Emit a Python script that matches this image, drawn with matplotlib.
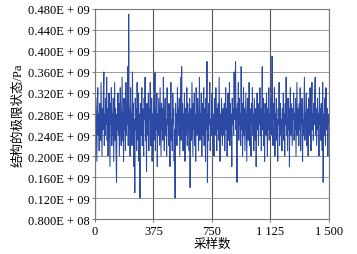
import numpy as np
import matplotlib
matplotlib.use('Agg')
import matplotlib.pyplot as plt

# limit state values, in units of 0.01E+09 Pa (every ~3rd sample)
state_vals = [
    27, 22, 31, 25, 19, 29, 33, 24, 28, 21, 30, 26, 23, 34, 27, 20, 29, 25, 32, 36, 22, 28, 24, 31, 26,
    35, 23, 29, 20, 27, 32, 25, 18, 30, 26, 33, 22, 28, 24, 31, 19, 27, 34, 23, 29, 21, 15, 28, 25, 32,
    24, 30, 20, 27, 33, 26, 22, 29, 35, 23, 28, 19, 31, 25, 27, 21, 34, 24, 30, 26, 37, 22, 47, 25, 29,
    20, 33, 26, 28, 22, 36, 24, 30, 18, 27, 13, 31, 25, 29, 21, 34, 26, 23, 32, 19, 28, 12, 30, 24, 27,
    33, 22, 29, 25, 20, 31, 27, 35, 23, 28, 17, 30, 26, 24, 32, 21, 29, 27, 34, 22, 26, 31, 19, 28, 25,
    30, 23, 27, 36, 21, 29, 25, 32, 18, 28, 24, 31, 26, 22, 33, 27, 20, 30, 25, 29, 23, 35, 26, 21, 28,
    31, 24, 27, 20, 33, 26, 29, 22, 30, 25, 18, 28, 34, 23, 27, 21, 32, 26, 29, 19, 25, 12, 30, 24, 28,
    22, 33, 26, 29, 24, 31, 20, 27, 35, 23, 37, 25, 30, 21, 28, 26, 32, 19, 29, 24, 27, 33, 22, 30, 25,
    28, 21, 31, 14, 26, 29, 23, 34, 27, 20, 30, 25, 32, 22, 28, 19, 33, 26, 24, 31, 27, 21, 29, 35, 23,
    28, 25, 32, 20, 27, 30, 24, 33, 22, 29, 26, 19, 31, 25, 38, 15, 28, 23, 30, 26, 34, 21, 27, 24, 29,
    32, 22, 28, 25, 20, 31, 27, 24, 33, 26, 21, 29, 25, 30, 23, 35, 27, 19, 28, 24, 31, 26, 22, 29, 27,
    24, 30, 21, 28, 33, 25, 29, 20, 27, 32, 23, 26, 34, 22, 30, 25, 28, 18, 31, 26, 29, 24, 36, 27, 33,
    38, 25, 29, 15, 30, 27, 34, 23, 31, 26, 28, 22, 37, 25, 30, 20, 28, 33, 24, 29, 21, 27, 32, 25, 19,
    28, 31, 23, 27, 34, 22, 29, 25, 20, 30, 26, 33, 24, 28, 21, 31, 27, 23, 29, 18, 26, 32, 25, 28, 22,
    30, 26, 33, 24, 29, 21, 27, 37, 25, 31, 22, 28, 19, 30, 26, 24, 32, 27, 20, 29, 25, 33, 23, 28, 26,
    31, 24, 29, 39, 26, 22, 30, 27, 33, 20, 28, 25, 31, 23, 27, 19, 29, 26, 34, 22, 28, 30, 24, 27, 21,
    29, 25, 32, 23, 28, 20, 30, 26, 35, 24, 27, 21, 31, 25, 29, 18, 28, 33, 24, 30, 26, 22, 29, 27, 32,
    23, 28, 25, 31, 20, 27, 34, 24, 29, 26, 22, 30, 25, 33, 21, 28, 26, 31, 19, 27, 24, 30, 35, 23, 28,
    26, 32, 22, 29, 25, 20, 31, 27, 24, 33, 26, 21, 29, 34, 25, 28, 23, 30, 26, 32, 35, 24, 29, 22, 27,
    31, 25, 28, 20, 33, 26, 29, 23, 30, 27, 21, 34, 15, 28, 24, 31, 26, 22, 33, 27, 25, 29, 20, 28, 26,
]

x_ticks = [0, 375, 750, 1125, 1500]
x_ticklabels = ['0', '375', '750', '1 125', '1 500']
y_ticks = [0.08e9, 0.12e9, 0.16e9, 0.20e9, 0.24e9, 0.28e9, 0.32e9, 0.36e9, 0.40e9, 0.44e9, 0.48e9]
y_ticklabels = ['0.800E + 08', '0.120E + 09', '0.160E + 09', '0.200E + 09', '0.240E + 09',
                '0.280E + 09', '0.320E + 09', '0.360E + 09', '0.400E + 09', '0.440E + 09',
                '0.480E + 09']

fonts = ['Liberation Serif', 'Noto Sans CJK SC']
plt.rcParams['font.family'] = fonts

y = np.array(state_vals) * 1e7
x = np.linspace(0, 1500, len(y))

fig = plt.figure(figsize=(3.57, 2.55), dpi=100)
ax = fig.add_axes([0.266, 0.137, 0.655, 0.824])

ax.plot(x, y, color='#2c4aa3', lw=0.75)

ax.set_xlim(0, 1500)
ax.set_ylim(0.08e9, 0.48e9)
ax.set_xticks(x_ticks)
ax.set_xticklabels(x_ticklabels)
ax.set_yticks(y_ticks)
ax.set_yticklabels(y_ticklabels)
ax.tick_params(labelsize=9, length=2, width=0.6, color='#666666', pad=2)

ax.grid(axis='y', color='#9a9a9a', lw=0.7)
ax.grid(axis='x', color='#555555', lw=0.8)
ax.set_axisbelow(True)
for s in ax.spines.values():
    s.set_color('#777777')
    s.set_linewidth(0.8)

ax.set_xlabel('采样数', fontsize=9, labelpad=1)
ax.set_ylabel('结构的极限状态/Pa', fontsize=9, labelpad=2)

fig.savefig('out.png', dpi=100)
